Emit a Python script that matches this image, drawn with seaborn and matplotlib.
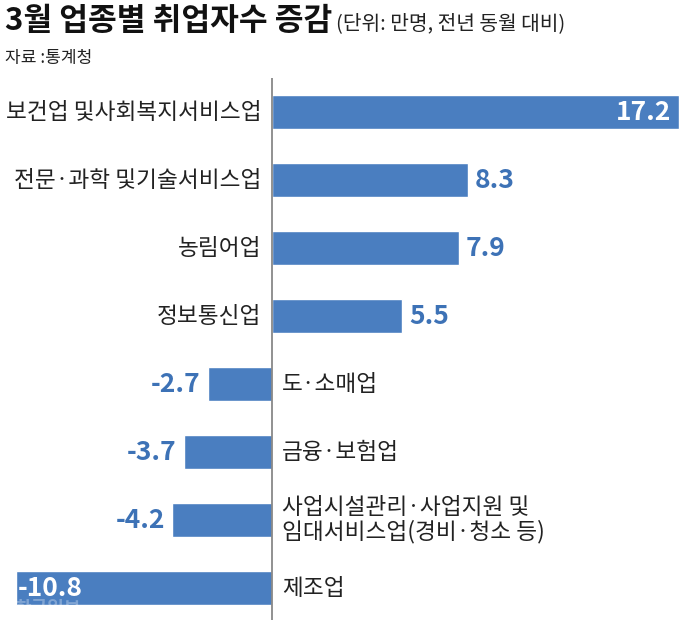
import matplotlib
matplotlib.use("Agg")
import matplotlib.pyplot as plt
import seaborn as sns
import pandas as pd

sns.set_style("white")
plt.rcParams['font.family'] = ['Noto Sans CJK KR', 'DejaVu Sans']

# Data (단위: 만명, 전년 동월 대비)
industries = [
    "보건업 및사회복지서비스업",
    "전문·과학 및기술서비스업",
    "농림어업",
    "정보통신업",
    "도·소매업",
    "금융·보험업",
    "사업시설관리·사업지원 및\n임대서비스업(경비·청소 등)",
    "제조업",
]
changes = [17.2, 8.3, 7.9, 5.5, -2.7, -3.7, -4.2, -10.8]
inside_label = [True, False, False, False, False, False, False, True]

bar_color = "#4a7ec0"
text_blue = "#3d72b6"

df = pd.DataFrame({"industry": industries, "change": changes})

fig = plt.figure(figsize=(6.8, 6.25), dpi=100)
ax = fig.add_axes([0, 0.008, 1, 0.867])

sns.barplot(data=df, x="change", y="industry", orient="h", color=bar_color,
            saturation=1, width=0.49, ax=ax)

ax.set_xlim(-11.47, 17.25)
ax.set_ylim(7.47, -0.5)
ax.axvline(0, color="#888888", lw=1.3, zorder=3)
ax.axis("off")

# labels
for i, (name, val, inside) in enumerate(zip(industries, changes, inside_label)):
    if val >= 0:
        ax.text(-0.42, i, name, ha="right", va="center", fontsize=16.3, color="#222222")
        if inside:
            ax.text(val - 0.3, i, f"{val}", ha="right", va="center", fontsize=19,
                    fontweight="bold", color="white")
        else:
            ax.text(val + 0.3, i, f"{val}", ha="left", va="center", fontsize=19,
                    fontweight="bold", color=text_blue)
    else:
        ax.text(0.45, i, name, ha="left", va="center", fontsize=16.3, color="#222222",
                linespacing=1.05)
        if inside:
            ax.text(val + 0.1, i, f"{val}", ha="left", va="center", fontsize=19,
                    fontweight="bold", color="white")
        else:
            ax.text(val - 0.3, i, f"{val}", ha="right", va="center", fontsize=19,
                    fontweight="bold", color=text_blue)

# watermark
ax.text(-10.85, 7.3, "한국일보", ha="left", va="center", fontsize=13,
        fontweight="bold", color="white", alpha=0.3)

# title
fig.text(0.007, 0.967, "3월 업종별 취업자수 증감", fontsize=22.5, fontweight="bold",
         ha="left", va="center", color="#111111")
fig.text(0.494, 0.962, "(단위: 만명, 전년 동월 대비)", fontsize=14.6,
         ha="left", va="center", color="#222222")
fig.text(0.007, 0.908, "자료 :통계청", fontsize=12.3, ha="left", va="center",
         color="#222222")

plt.savefig("out.png", dpi=100)
